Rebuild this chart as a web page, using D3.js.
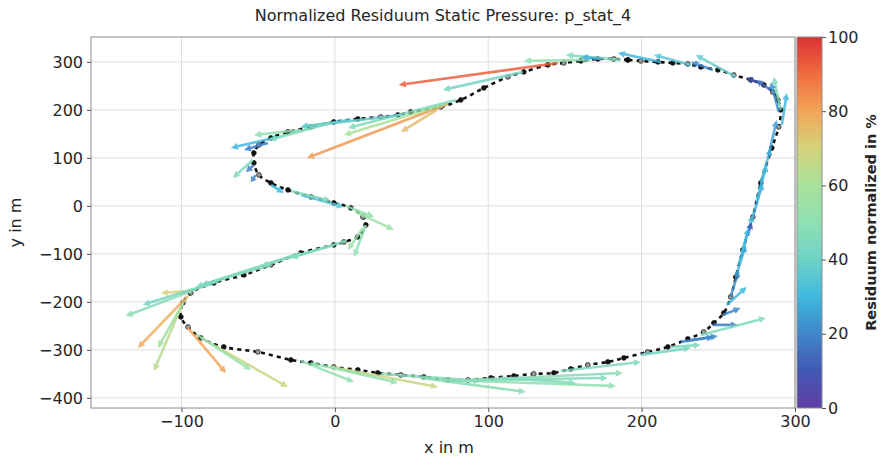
<!DOCTYPE html>
<html>
<head>
<meta charset="utf-8">
<script src="https://cdn.jsdelivr.net/npm/d3@7"></script>
<style>
  body { margin: 0; background: #fff; }
  text { font-family: "DejaVu Sans", sans-serif; fill: #262626; }
</style>
</head>
<body>
<div id="chart"></div>
<script>
var width = 880,
    height = 457,
    margin = {top: 37, right: 85, bottom: 49, left: 91};

// track of the measurement (x, y in m)
var trackX = [191.0, 181.9, 171.4, 160.4, 149.3, 138.9, 123.2, 112.8, 97.1, 82.1, 69.1, 49.5, 41.1, 30.0, 15.0, -0.7,
  -15.6, -30.6, -41.7, -49.5, -52.8, -52.8, -49.5, -41.7, -30.6, -15.6, -0.7, 10.4, 18.3, 20.2, 15.0, 5.9, -0.7,
  -22.2, -41.7, -59.3, -78.9, -93.9, -99.1, -100.4, -95.8, -87.4, -72.4, -50.2, -28.7, -15.6, -0.7, 15.0, 28.0,
  43.0, 58.0, 73.7, 86.7, 101.7, 116.7, 129.7, 142.8, 153.8, 164.9, 178.0, 188.4, 204.0, 217.1, 230.1, 240.5,
  247.1, 253.6, 258.1, 261.4, 266.0, 272.5, 277.7, 284.9, 289.4, 290.7, 288.8, 285.5, 279.7, 271.2, 260.1, 249.7,
  238.6, 230.1, 220.3, 210.6, 199.5, 191.0];
var trackY = [304.2, 306.3, 306.3, 302.1, 297.9, 293.8, 279.2, 268.8, 245.8, 220.8, 206.3, 195.8, 189.6, 185.4, 181.3,
  175.0, 164.6, 154.2, 141.7, 127.1, 110.4, 89.6, 64.6, 47.9, 33.3, 18.8, 6.3, -4.2, -22.9, -39.6, -64.6, -75.0,
  -81.3, -97.9, -122.9, -143.8, -160.4, -181.3, -202.1, -231.3, -252.1, -275.0, -293.8, -304.2, -320.8, -327.1,
  -335.4, -341.7, -347.9, -352.1, -356.3, -362.5, -362.5, -358.3, -354.2, -350.0, -347.9, -339.6, -331.3, -325.0,
  -316.7, -304.2, -293.8, -277.1, -262.5, -243.8, -222.9, -189.6, -147.9, -91.7, -22.9, 47.9, 120.8, 164.6, 200.0,
  220.8, 237.5, 252.1, 262.5, 272.9, 283.3, 289.6, 295.8, 297.9, 300.0, 302.1, 304.2];

// quiver: origin, vector and normalized residuum in %
var arrowX = [145.4, 73.7, 66.5, 72.4, 78.9, 122.6, 166.9, 186.4, 212.5, 232.1, 261.4, 246.4, 277.7, 284.2, 290.7,
  289.4, 291.4, 173.4, 261.4, 266.0, 272.5, 277.7, 282.9, 269.2, 258.1, 255.5, 252.9, 246.4, 238.6, 232.1, 219.0,
  225.6, 199.5, 88.7, 75.6, 69.1, 56.1, -2.6, -15.6, -22.2, 108.2, -87.4, -90.6, -95.8, -99.1, -97.8, -95.8, -93.9,
  -71.1, -77.6, -22.2, 7.2, 20.2, 18.3, 7.2, 13.7, -22.2, -41.7, -22.2, -37.2, -43.7, -53.5, -52.8, -51.5, 10.4,
  43.0, -2.6, -0.7, -41.7, 30.0, 147.3, -28.7, 263.3, 275.1];
var arrowY = [297.9, 212.5, 200.0, 212.5, 220.8, 279.2, 304.2, 304.2, 300.0, 293.8, 268.8, 283.3, 256.3, 241.7, 200.0,
  195.8, 168.8, 306.3, -147.9, -91.7, -22.9, 47.9, 106.3, -60.4, -189.6, -206.3, -227.1, -247.9, -268.8, -279.2,
  -293.8, -283.3, -310.4, -362.5, -364.6, -362.5, -358.3, -335.4, -327.1, -322.9, -358.3, -275.0, -266.7, -254.2,
  -202.1, -195.8, -187.5, -177.1, -150.0, -158.3, -97.9, -72.9, -39.6, -45.8, 0.0, -12.5, 22.9, 43.8, 158.3, 143.8,
  131.3, 95.8, 85.4, 64.6, 179.2,
  189.6, 172.9, -81.3, -122.9, -350.0, -343.8, 31.3, -122.9, 12.5];
var arrowU = [-103.7, -91.9, -23.5, -66.5, -70.4, -52.2, -43.7, -35.9, -28.0, -24.1, -26.1, -14.3, -9.8, -9.8, -4.6,
  -5.2, 3.3, -13.0, 6.5, 6.5, 6.5, 6.5, 5.2, 2.6, 5.2, 13.0, 11.7, 16.3, 42.4, 17.6, 19.6, 21.5, 32.6, 99.1, 102.3,
  114.1, 68.4, 69.8, 56.7, 34.6, 48.9, 56.7, 35.9, 24.8, -18.9, -17.6, -32.6, -19.6, -65.2, -47.6, -68.4, -35.9,
  -7.8, -9.8, 18.3, 24.8, 28.0, 8.5, -30.6, -30.6, -15.6, -13.0, -5.2, -3.3, -32.6,
  -65.2, -40.4, -47.6, -45.6, 65.2, 52.2, 26.1, 6.5, 6.5];
var arrowV = [-45.8, -112.5, -45.8, -64.6, -58.3, -37.5, -2.1, 10.4, 18.8, 20.8, 45.8, 16.7, 10.4, 20.8, 68.8, 62.5,
  66.7, 4.2, 66.7, 72.9, 70.8, 72.9, 72.9, 27.1, 56.3, 37.5, 14.6, 0.0, 35.4, 8.3, 4.2, 10.4, 14.6, 14.6, 6.3, -12.5,
  -29.2, -41.7, -41.7, -43.8, -10.4, -102.1, -75.0, -93.8, -141.7, -100.0, -108.3, -4.2, -79.2, -47.9, -70.8, -35.4,
  -66.7, -45.8, -22.9, -37.5, -25.0, -16.7, -10.4, -22.9, -14.6, -37.5, -14.6, -14.6, -14.6,
  -25.0, -35.4, -43.8, -41.7, -14.6, 18.8, -20.8, 77.1, 72.9];
var arrowRes = [92, 82, 75, 60, 45, 42, 50, 45, 30, 35, 38, 20, 10, 15, 45, 22, 30, 28, 28, 30, 28, 32, 25, 12, 22,
  30, 20, 18, 45, 22, 45, 20, 42, 48, 45, 50, 48, 67, 52, 50, 46, 68, 52, 80, 64, 57, 78, 70, 48, 42, 45, 45, 50, 55,
  50, 55, 35, 30, 50, 30, 18, 45, 18, 20, 35,
  38, 45, 47, 44, 48, 45, 45, 30, 30];

var xTicks = [-100, 0, 100, 200, 300],
    yTicks = [-400, -300, -200, -100, 0, 100, 200, 300],
    cTicks = [0, 20, 40, 60, 80, 100];

// colormap
var cmapStops = [0, 10, 20, 30, 40, 50, 60, 70, 80, 90, 100],
    cmapColors = ["#5e3fa6", "#4257b5", "#3f86c9", "#40b9df", "#6fd2c6", "#8fdfb2", "#a7e19a", "#d4d27a",
                  "#f3a557", "#f06c40", "#dc3131"];

var color = d3.scaleLinear().domain(cmapStops).range(cmapColors);

var svg = d3.select("#chart").append("svg")
  .attr("width", width)
  .attr("height", height);

var x = d3.scaleLinear().domain([-159, 300]).range([margin.left, 795]);
var y = d3.scaleLinear().domain([-421, 352]).range([height - margin.bottom, margin.top]);

//grid
svg.append("g").selectAll("line").data(xTicks).enter().append("line")
  .attr("x1", d => x(d)).attr("x2", d => x(d))
  .attr("y1", y.range()[1]).attr("y2", y.range()[0])
  .attr("stroke", "#dddddd").attr("stroke-width", 1);
svg.append("g").selectAll("line").data(yTicks).enter().append("line")
  .attr("y1", d => y(d)).attr("y2", d => y(d))
  .attr("x1", x.range()[0]).attr("x2", x.range()[1])
  .attr("stroke", "#dddddd").attr("stroke-width", 1);

//track
var pts = trackX.map((d, i) => [d, trackY[i]]);
svg.append("path")
  .datum(pts)
  .attr("d", d3.line().x(d => x(d[0])).y(d => y(d[1])).curve(d3.curveCatmullRom))
  .attr("fill", "none")
  .attr("stroke", "#111")
  .attr("stroke-width", 2.6)
  .attr("stroke-dasharray", "4,4");
svg.append("g").selectAll("circle").data(pts).enter().append("circle")
  .attr("cx", d => x(d[0])).attr("cy", d => y(d[1]))
  .attr("r", 2.4)
  .attr("fill", (d, i) => i % 3 == 1 ? "#9a9a9a" : "#111")
  .attr("stroke", "#111").attr("stroke-width", 0.7);

//quiver arrows
function arrowPath(i) {
  var x0 = x(arrowX[i]), y0 = y(arrowY[i]),
      x1 = x(arrowX[i] + arrowU[i]), y1 = y(arrowY[i] + arrowV[i]);
  var dx = x1 - x0, dy = y1 - y0, len = Math.sqrt(dx * dx + dy * dy);
  var ux = dx / len, uy = dy / len, nx = -uy, ny = ux;
  var w = 1.3, hw = 3.5, hl = Math.min(7, len * 0.6);
  var bx = x1 - ux * hl, by = y1 - uy * hl;
  var p = [
    [x0 + nx * w, y0 + ny * w],
    [bx + nx * w, by + ny * w],
    [bx + nx * hw, by + ny * hw],
    [x1, y1],
    [bx - nx * hw, by - ny * hw],
    [bx - nx * w, by - ny * w],
    [x0 - nx * w, y0 - ny * w]
  ];
  return "M" + p.map(q => q[0].toFixed(1) + "," + q[1].toFixed(1)).join("L") + "Z";
}

svg.append("g").selectAll("path").data(d3.range(arrowX.length)).enter().append("path")
  .attr("d", arrowPath)
  .attr("fill", d => color(arrowRes[d]))
  .attr("opacity", 0.85);

//axes frame
svg.append("rect")
  .attr("x", x.range()[0]).attr("y", y.range()[1])
  .attr("width", x.range()[1] - x.range()[0])
  .attr("height", y.range()[0] - y.range()[1])
  .attr("fill", "none").attr("stroke", "#8c8c8c").attr("stroke-width", 1);

var xAxis = svg.append("g")
  .attr("transform", "translate(0," + y.range()[0] + ")")
  .call(d3.axisBottom(x).tickValues(xTicks).tickSize(4).tickPadding(4));
var yAxis = svg.append("g")
  .attr("transform", "translate(" + x.range()[0] + ",0)")
  .call(d3.axisLeft(y).tickValues(yTicks).tickSize(4).tickPadding(4));
[xAxis, yAxis].forEach(function(a) {
  a.select(".domain").remove();
  a.selectAll(".tick line").attr("stroke", "#555");
  a.selectAll(".tick text").style("font-size", "16px").style("font-family", "DejaVu Sans").attr("fill", "#262626");
});

//colorbar
var cbX = 797, cbW = 25;
var cy = d3.scaleLinear().domain([0, 100]).range([y.range()[0], y.range()[1]]);
var grad = svg.append("defs").append("linearGradient")
  .attr("id", "cmap").attr("x1", 0).attr("y1", 1).attr("x2", 0).attr("y2", 0);
grad.selectAll("stop").data(cmapStops).enter().append("stop")
  .attr("offset", d => d + "%")
  .attr("stop-color", (d, i) => cmapColors[i]);
svg.append("rect")
  .attr("x", cbX).attr("y", y.range()[1])
  .attr("width", cbW).attr("height", y.range()[0] - y.range()[1])
  .attr("fill", "url(#cmap)")
  .attr("stroke", "#8c8c8c").attr("stroke-width", 1);
var cAxis = svg.append("g")
  .attr("transform", "translate(" + (cbX + cbW) + ",0)")
  .call(d3.axisRight(cy).tickValues(cTicks).tickSize(4).tickPadding(2));
cAxis.select(".domain").remove();
cAxis.selectAll(".tick line").attr("stroke", "#555");
cAxis.selectAll(".tick text").style("font-size", "16px").style("font-family", "DejaVu Sans").attr("fill", "#262626");

svg.append("text")
  .attr("transform", "translate(876," + (y.range()[0] + y.range()[1]) / 2 + ") rotate(-90)")
  .attr("text-anchor", "middle")
  .style("font-size", "14.5px").style("font-weight", "bold")
  .text("Residuum normalized in %");

//titles
svg.append("text")
  .attr("x", 443).attr("y", 21)
  .attr("text-anchor", "middle")
  .style("font-size", "16px")
  .text("Normalized Residuum Static Pressure: p_stat_4");
svg.append("text")
  .attr("x", 449).attr("y", 453)
  .attr("text-anchor", "middle")
  .style("font-size", "16px")
  .text("x in m");
svg.append("text")
  .attr("transform", "translate(21," + (y.range()[0] + y.range()[1]) / 2 + ") rotate(-90)")
  .attr("text-anchor", "middle")
  .style("font-size", "16px")
  .text("y in m");
</script>
</body>
</html>
